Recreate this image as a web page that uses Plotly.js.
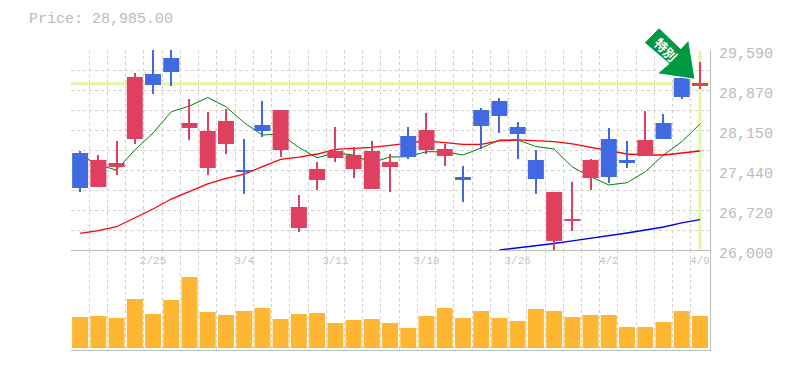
<!DOCTYPE html>
<html><head><meta charset="utf-8">
<script src="https://cdn.plot.ly/plotly-3.0.1.min.js"></script>
<style>html,body{margin:0;padding:0;background:#fff}#c{width:785px;height:370px}</style>
</head><body><div id="c"></div>
<script>
const dates=["2/19","2/20","2/21","2/22","2/25","2/26","2/27","2/28","3/1","3/4","3/5","3/6","3/7","3/8","3/11","3/12","3/13","3/14","3/15","3/18","3/19","3/20","3/22","3/25","3/26","3/27","3/28","3/29","4/1","4/2","4/3","4/4","4/5","4/8","4/9"];
const shownDates=["2/25","3/4","3/11","3/18","3/26","4/2","4/9"];
const opens=[27741,27131,27490,27992,29159,29446,28190,27472,27903,27436,28244,27795,26395,27256,27651,27454,27095,27490,28046,27795,27687,27310,28513,28675,28208,27616,26162,26521,27292,27992,27616,27687,28280,29087,28944];
const closes=[27113,27616,27562,29105,28962,29195,28280,28136,28316,27400,28136,28513,26772,27454,27777,27705,27777,27580,27669,28154,27813,27256,28226,28405,28082,27274,27041,26556,27616,27310,27562,27975,27992,28746,28998];
const highs=[27777,27705,27957,29177,29700,29700,28710,28477,28531,27992,28675,28513,26987,27580,28208,27849,27957,27723,28208,28459,27903,27508,28549,28728,28298,27795,27041,27221,27633,28190,27957,28495,28441,29087,29375];
const lows=[27041,27131,27346,27903,28800,28944,27975,27346,27723,27005,28028,27669,26323,27077,27580,27292,27095,27041,27633,27723,27508,26862,27813,28100,27633,27005,25982,26341,27077,27203,27472,27687,27992,28710,28890];
const maShort=[27705,27526,27436,27795,28100,28482,28585,28737,28572,28285,28064,28082,27840,27657,27741,27705,27567,27669,27675,27764,27764,27705,27831,27975,27975,27858,27813,27490,27316,27167,27208,27405,27705,27944,28262];
const maMid=[26300,26346,26418,26574,26736,26915,27046,27185,27287,27364,27495,27628,27669,27723,27808,27826,27843,27879,27915,27957,27926,27897,27897,27957,27975,27966,27944,27903,27843,27795,27723,27705,27705,27741,27777];
const maLong=[null,null,null,null,null,null,null,null,null,null,null,null,null,null,null,null,null,null,null,null,null,null,null,26000,26036,26072,26117,26162,26206,26251,26305,26359,26413,26485,26547];
const volumes=[31,32,30,49,34,48,71,36,33,37,40,29,34,35,25,28,29,25,20,32,40,30,37,30,27,39,37,31,33,33,21,21,26,37,32];
const price=28985;
const priceLabel="Price: 28,985.00";
const yTicks=[26000,26359,26718,27077,27436,27795,28154,28513,28872,29231,29590];
const yLabels=["26,000","","26,720","","27,440","","28,150","","28,870","","29,590"];
const arrowLabel="<b>特別</b>";
const arrowPx=[[659,27.7],[644.3,42.7],[669,63.7],[657.3,73.7],[695,79.3],[688.7,40.3],[680.7,48.7]];
const idx=dates.map((_,i)=>i);
const UP='#E0405F', DOWN='#4169E1';
const cols=opens.map((o,i)=>closes[i]>=o?UP:DOWN);
const mono='"Liberation Mono", monospace';
const L=71,R=75,T=50,B=20,W=785-L-R,H=370-T-B;
const px=p=>(p-L)/W, py=p=>(H+T-p)/H;
const pathStr=arrowPx.map((p,i)=>(i?'L':'M')+px(p[0])+' '+py(p[1])).join(' ')+' Z';
const hl='#E4F6A8';
const traces=[
 {type:'scatter',mode:'lines',x:[-0.5,34.5],y:[price,price],line:{color:hl,width:3},hoverinfo:'skip',xaxis:'x',yaxis:'y'},
 {type:'scatter',mode:'lines',x:[34,34],y:[26020,29580],line:{color:hl,width:3},hoverinfo:'skip',xaxis:'x',yaxis:'y'},
 {type:'scatter',mode:'lines',x:idx,y:maShort,line:{color:'#008000',width:1},xaxis:'x',yaxis:'y'},
 {type:'scatter',mode:'lines',x:idx,y:maMid,line:{color:'#FF0000',width:1.3},xaxis:'x',yaxis:'y'},
 {type:'scatter',mode:'lines',x:idx,y:maLong,line:{color:'#0000EE',width:1.3},xaxis:'x',yaxis:'y'},
 {type:'bar',x:idx,base:lows,y:highs.map((h,i)=>h-lows[i]),width:0.06,marker:{color:cols,line:{width:0}},xaxis:'x',yaxis:'y3'},
 {type:'bar',x:idx,base:opens.map((o,i)=>Math.min(o,closes[i])),y:opens.map((o,i)=>Math.abs(closes[i]-o)),width:0.877,marker:{color:cols,line:{width:0}},xaxis:'x',yaxis:'y3'},
 {type:'bar',x:idx,y:volumes,width:0.877,marker:{color:'#FFB733',line:{width:0}},xaxis:'x2',yaxis:'y2'}
];
const gridX={tickmode:'linear',tick0:-0.5,dtick:1,showgrid:true,griddash:'3px,3px',gridcolor:'#d0d0d0',gridwidth:1,ticks:''};
const layout={
 width:785,height:370,margin:{l:L,r:R,t:T,b:B,pad:0},paper_bgcolor:'#fff',plot_bgcolor:'#fff',showlegend:false,
 barmode:'overlay',
 title:{text:priceLabel,x:29/785,xanchor:'left',y:0.951,yanchor:'middle',font:{family:mono,size:15,color:'#bbb'},pad:{l:0,t:0}},
 xaxis:{domain:[0,1],range:[-0.5,34.55],anchor:'y',tickmode:'array',tickvals:shownDates.map(d=>dates.indexOf(d)),ticktext:shownDates,
  showgrid:false,minor:gridX,zeroline:false,showline:true,linecolor:'#bbb',linewidth:1,ticks:'',
  tickfont:{family:mono,size:11,color:'#c4c4c4'},fixedrange:true},
 xaxis2:{domain:[0,1],matches:'x',anchor:'y2',tickmode:'array',tickvals:[],showgrid:false,minor:gridX,zeroline:false,showline:true,linecolor:'#bbb',linewidth:1,ticks:'',showticklabels:false},
 yaxis:{domain:[1/3,1],range:[26000,29590],side:'right',anchor:'x',tickmode:'array',tickvals:yTicks,ticktext:yLabels,showgrid:true,griddash:'3px,3px',gridcolor:'#d0d0d0',gridwidth:1,
  zeroline:false,showline:true,linecolor:'#bbb',linewidth:1,ticks:'',ticklabelshift:3,ticklabelstandoff:5,tickfont:{family:mono,size:15,color:'#bbb'},fixedrange:true},
 yaxis3:{overlaying:'y',anchor:'x',range:[26000,29590],side:'right',visible:false,showgrid:false,zeroline:false,fixedrange:true},
 yaxis2:{domain:[0,1/3],range:[-2,98],side:'right',anchor:'x2',showgrid:false,zeroline:false,showline:true,linecolor:'#bbb',linewidth:1,ticks:'',showticklabels:false,fixedrange:true},
 shapes:[{type:'path',xref:'paper',yref:'paper',layer:'above',path:pathStr,fillcolor:'#009944',line:{color:'#fff',width:1}}],
 annotations:[{xref:'paper',yref:'paper',x:px(666),y:py(49.5),xanchor:'center',yanchor:'middle',text:arrowLabel,textangle:45,showarrow:false,font:{family:'"Noto Sans CJK JP"',size:13,color:'#ffffff'}}]
};
Plotly.newPlot('c',traces,layout,{displayModeBar:false});
</script></body></html>
